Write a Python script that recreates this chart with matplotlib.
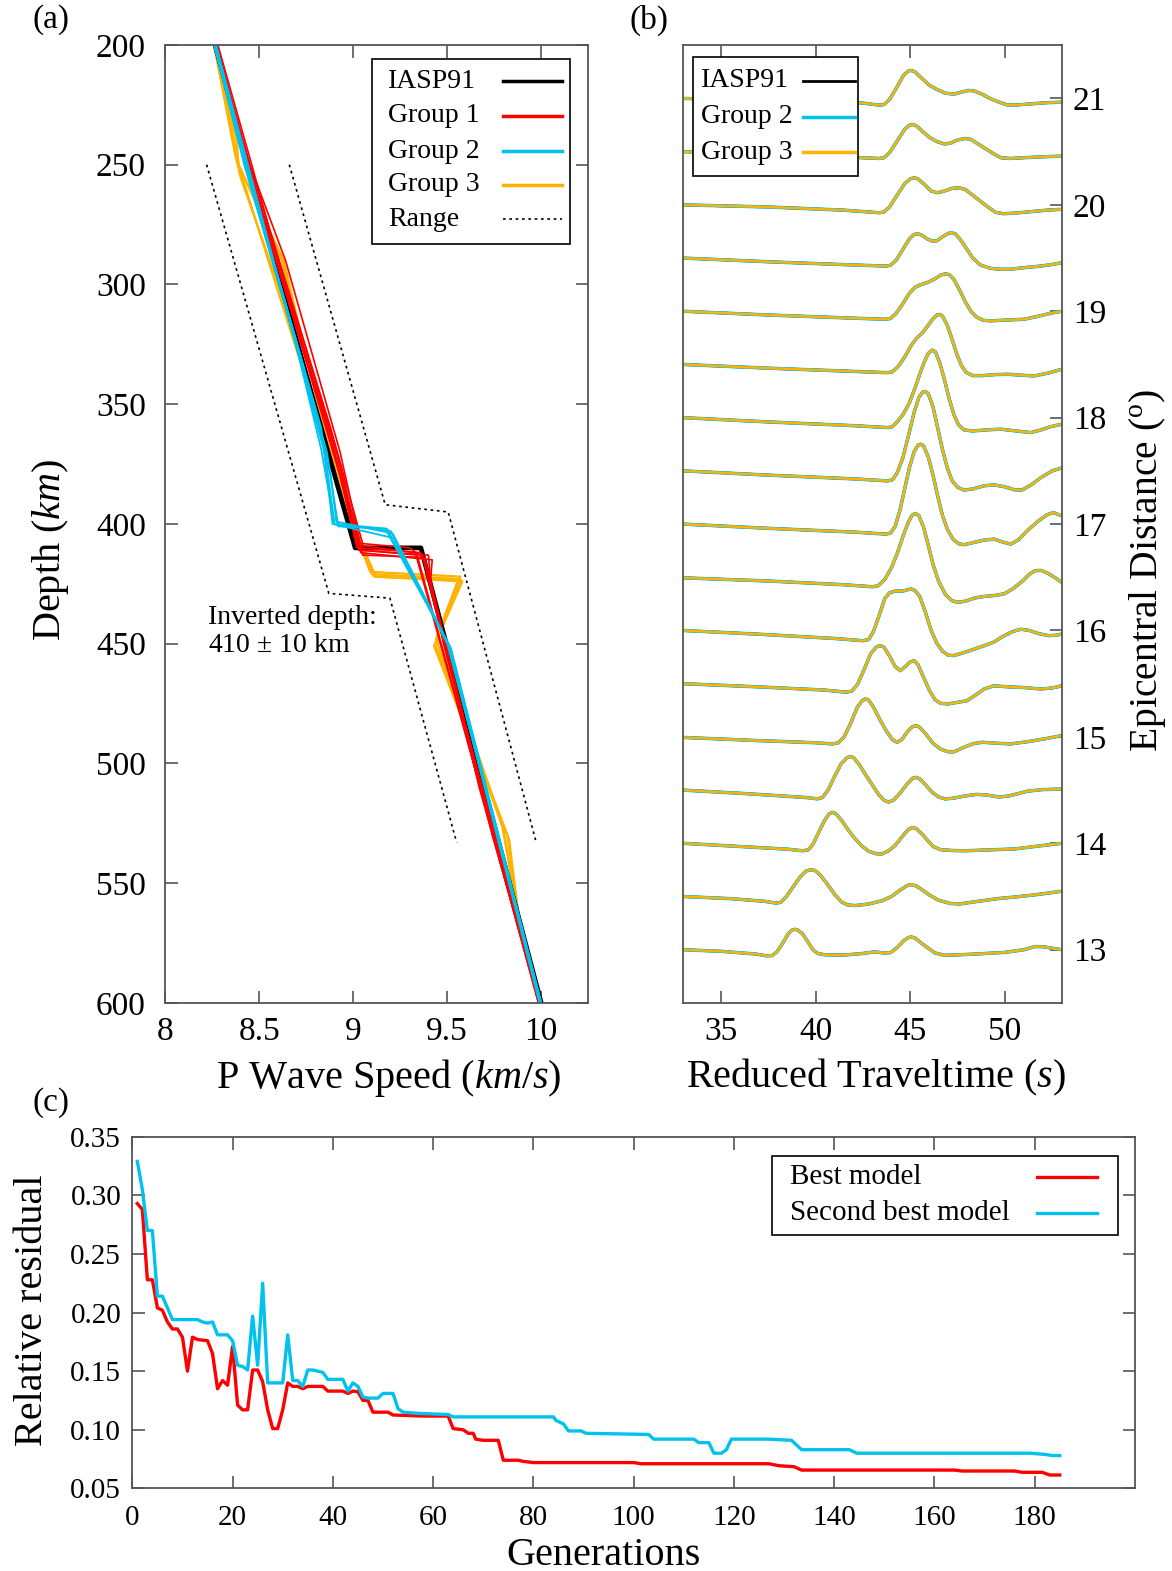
import matplotlib
matplotlib.use('Agg')
import matplotlib.pyplot as plt
from matplotlib.patches import Rectangle

plt.rcParams['font.family'] = ['Liberation Serif', 'DejaVu Serif']
plt.rcParams['mathtext.fontset'] = 'custom'
plt.rcParams['mathtext.rm'] = 'Liberation Serif'
plt.rcParams['mathtext.it'] = 'Liberation Serif:italic'

RED = '#ff0000'
CYAN = '#00c2ec'
ORANGE = '#ffb200'
FRAME = '#555555'

# ---- (a) P wave speed models: (depth km, vp km/s) ----
iasp91_depth = [200, 210, 250, 410, 410, 600]
iasp91_vp = [8.265, 8.30, 8.435, 9.01, 9.36, 10.0]

range_left_depth = [250, 429, 431, 533]
range_left_vp = [8.22, 8.87, 9.195, 9.55]
range_right_depth = [250, 392, 395, 532]
range_right_vp = [8.66, 9.17, 9.505, 9.97]

group1_models = [
    [(200, 8.27), (250, 8.45), (290, 8.64), (370, 8.93), (409, 9.04), (412, 9.33), (520, 9.71), (600, 9.99)],
    [(200, 8.27), (250, 8.44), (330, 8.76), (372, 8.92), (411, 9.03), (413, 9.40), (423, 9.41), (450, 9.48), (600, 9.995)],
    [(200, 8.26), (250, 8.43), (300, 8.63), (370, 8.91), (413, 9.05), (414, 9.38), (510, 9.67), (600, 9.99)],
    [(200, 8.27), (260, 8.47), (370, 8.90), (410, 9.02), (412, 9.36), (420, 9.40), (530, 9.74), (600, 9.995)],
    [(200, 8.28), (250, 8.46), (290, 8.60), (370, 8.90), (412, 9.04), (415, 9.42), (425, 9.41), (455, 9.50), (600, 9.99)],
    [(200, 8.27), (250, 8.44), (380, 8.93), (408, 9.02), (410, 9.30), (414, 9.37), (500, 9.64), (600, 9.985)],
    [(200, 8.27), (250, 8.45), (360, 8.88), (411, 9.06), (413, 9.34), (600, 9.985)],
]
group2_models = [
    [(200, 8.27), (250, 8.43), (330, 8.72), (370, 8.85), (400, 8.90), (402, 9.18), (451, 9.51), (600, 9.995)],
    [(200, 8.26), (250, 8.42), (320, 8.68), (369, 8.83), (400, 8.90), (403, 9.20), (450, 9.50), (600, 10.0)],
    [(200, 8.27), (250, 8.44), (380, 8.88), (399, 8.91), (404, 9.21), (452, 9.52), (600, 10.0)],
    [(200, 8.27), (260, 8.46), (370, 8.86), (401, 8.92), (402, 9.17), (449, 9.50), (600, 9.99)],
    [(200, 8.26), (250, 8.43), (360, 8.83), (400, 8.89), (406, 9.22), (453, 9.52), (600, 10.0)],
]
group3_models = [
    [(200, 8.26), (240, 8.38), (250, 8.39), (290, 8.63), (340, 8.78), (394, 8.96), (422, 9.11), (423.5, 9.575), (450, 9.435), (530, 9.82), (563, 9.88), (600, 10.0)],
    [(200, 8.26), (245, 8.37), (255, 8.40), (300, 8.60), (396, 8.98), (421, 9.10), (423, 9.56), (448, 9.44), (528, 9.80), (560, 9.87), (600, 10.0)],
    [(200, 8.27), (250, 8.39), (290, 8.62), (350, 8.82), (395, 8.97), (422, 9.12), (424, 9.58), (451, 9.43), (532, 9.83), (565, 9.88), (600, 10.0)],
    [(200, 8.26), (248, 8.38), (395, 8.97), (420, 9.09), (422, 9.57), (447, 9.45), (525, 9.79), (562, 9.875), (600, 10.0)],
]

# ---- (b) waveforms: epicentral distance and (time s, amplitude deg) knots ----
trace_dist = [13.0, 13.5, 14.0, 14.5, 15.0, 15.5, 16.0, 16.5, 17.0,
              17.5, 18.0, 18.5, 19.0, 19.5, 20.0, 20.5, 21.0]
trace_knots = [
    # 13.0
    [(33.0, 0.0), (35.0, -0.015), (36.8, -0.04), (37.4, -0.057), (37.7, -0.055), (37.95, -0.02), (38.25, 0.06),
     (38.55, 0.15), (38.75, 0.185), (38.9, 0.192), (39.05, 0.185), (39.3, 0.15), (39.6, 0.07), (39.85, 0.0),
     (40.1, -0.035), (40.5, -0.048), (41.5, -0.05), (42.5, -0.035), (43.1, -0.02), (43.6, -0.03), (43.95, -0.028),
     (44.3, 0.02), (44.65, 0.085), (44.9, 0.115), (45.05, 0.12), (45.25, 0.11), (45.6, 0.06), (45.9, 0.02),
     (46.3, -0.03), (46.8, -0.052), (47.3, -0.05), (48.5, -0.04), (50.0, -0.025), (51.0, 0.0), (51.6, 0.03),
     (52.0, 0.028), (53.0, 0.0)],
    # 13.5
    [(33.0, 0.0), (35.5, -0.02), (37.3, -0.045), (37.9, -0.062), (38.15, -0.055), (38.45, 0.0), (38.8, 0.09),
     (39.2, 0.19), (39.5, 0.24), (39.75, 0.252), (39.95, 0.245), (40.2, 0.21), (40.6, 0.12), (41.0, 0.02),
     (41.35, -0.05), (41.7, -0.08), (42.1, -0.085), (42.8, -0.07), (43.5, -0.04), (44.0, 0.0), (44.5, 0.065),
     (44.85, 0.105), (45.05, 0.112), (45.3, 0.1), (45.65, 0.06), (46.0, 0.015), (46.5, -0.035), (47.1, -0.065),
     (47.6, -0.07), (48.6, -0.045), (49.6, -0.02), (50.5, -0.005), (51.4, 0.012), (52.2, 0.03), (53.0, 0.05)],
    # 14.0
    [(33.0, 0.0), (36.0, -0.03), (38.5, -0.055), (39.3, -0.07), (39.6, -0.062), (39.85, -0.01), (40.15, 0.1),
     (40.45, 0.21), (40.7, 0.275), (40.88, 0.29), (41.05, 0.28), (41.35, 0.22), (41.7, 0.13), (42.0, 0.06),
     (42.4, -0.02), (42.8, -0.075), (43.2, -0.098), (43.5, -0.1), (43.85, -0.07), (44.2, -0.02), (44.6, 0.07),
     (44.9, 0.13), (45.1, 0.148), (45.3, 0.14), (45.6, 0.09), (45.9, 0.03), (46.2, -0.03), (46.6, -0.06),
     (47.3, -0.068), (47.9, -0.07), (49.0, -0.063), (50.5, -0.053), (51.8, -0.025), (53.0, 0.0)],
    # 14.5
    [(33.0, 0.0), (36.5, -0.035), (39.5, -0.07), (40.1, -0.082), (40.35, -0.07), (40.65, 0.0), (41.0, 0.13),
     (41.35, 0.25), (41.65, 0.305), (41.83, 0.315), (42.0, 0.305), (42.3, 0.24), (42.65, 0.14), (42.95, 0.06),
     (43.3, -0.035), (43.6, -0.095), (43.85, -0.112), (44.1, -0.095), (44.4, -0.04), (44.8, 0.05), (45.1, 0.11),
     (45.3, 0.12), (45.5, 0.105), (45.8, 0.05), (46.15, -0.02), (46.5, -0.065), (46.85, -0.083), (47.3, -0.075),
     (47.9, -0.055), (48.5, -0.04), (49.0, -0.045), (49.7, -0.065), (50.2, -0.055), (51.2, -0.01), (52.0, 0.005),
     (53.0, 0.01)],
    # 15.0
    [(33.0, -0.005), (37.0, -0.035), (40.0, -0.055), (40.9, -0.066), (41.2, -0.055), (41.5, 0.0), (41.85, 0.13),
     (42.2, 0.28), (42.45, 0.34), (42.63, 0.357), (42.8, 0.345), (43.05, 0.28), (43.4, 0.16), (43.75, 0.05),
     (44.05, -0.025), (44.3, -0.05), (44.55, -0.025), (44.85, 0.05), (45.1, 0.095), (45.3, 0.106), (45.5, 0.09),
     (45.85, 0.02), (46.2, -0.06), (46.6, -0.115), (47.0, -0.14), (47.3, -0.14), (47.8, -0.1), (48.3, -0.065),
     (48.8, -0.05), (49.6, -0.06), (50.3, -0.066), (51.2, -0.045), (52.2, -0.015), (53.0, 0.012)],
    # 15.5
    [(33.0, 0.0), (37.0, -0.03), (40.5, -0.06), (41.6, -0.08), (41.9, -0.07), (42.2, -0.01), (42.55, 0.13),
     (42.9, 0.28), (43.2, 0.345), (43.4, 0.357), (43.6, 0.345), (43.9, 0.26), (44.2, 0.16), (44.48, 0.122),
     (44.75, 0.165), (45.0, 0.205), (45.2, 0.216), (45.4, 0.18), (45.7, 0.06), (46.0, -0.06), (46.3, -0.15),
     (46.6, -0.185), (47.0, -0.19), (47.5, -0.175), (48.0, -0.16), (48.5, -0.1), (48.9, -0.05), (49.4, -0.02),
     (50.2, -0.03), (51.0, -0.036), (51.9, -0.05), (52.5, -0.04), (53.0, -0.02)],
    # 16.0
    [(33.0, 0.0), (37.0, -0.035), (41.0, -0.075), (42.5, -0.096), (42.8, -0.085), (43.05, -0.01), (43.35, 0.14),
     (43.65, 0.3), (43.9, 0.355), (44.2, 0.37), (44.6, 0.37), (44.9, 0.385), (45.05, 0.39), (45.25, 0.375),
     (45.5, 0.32), (45.8, 0.17), (46.1, 0.0), (46.4, -0.12), (46.7, -0.195), (47.0, -0.232), (47.3, -0.235),
     (47.7, -0.215), (48.3, -0.18), (48.9, -0.143), (49.4, -0.11), (49.9, -0.055), (50.4, -0.01), (50.84, 0.012),
     (51.3, 0.0), (51.8, -0.03), (52.3, -0.048), (52.7, -0.045), (53.0, -0.033)],
    # 16.5
    [(33.0, -0.005), (37.5, -0.035), (41.5, -0.07), (43.0, -0.089), (43.3, -0.08), (43.65, -0.02), (44.0, 0.09),
     (44.3, 0.22), (44.6, 0.38), (44.9, 0.52), (45.1, 0.585), (45.27, 0.6), (45.45, 0.58), (45.7, 0.47),
     (45.95, 0.3), (46.2, 0.12), (46.5, -0.04), (46.85, -0.16), (47.2, -0.22), (47.5, -0.235), (47.9, -0.225),
     (48.4, -0.195), (48.9, -0.18), (49.5, -0.17), (49.96, -0.155), (50.4, -0.11), (50.9, -0.04), (51.3, 0.03),
     (51.6, 0.062), (51.9, 0.065), (52.3, 0.035), (52.7, -0.01), (53.0, -0.049)],
    # 17.0
    [(33.0, 0.0), (37.5, -0.04), (42.0, -0.075), (43.7, -0.094), (43.95, -0.085), (44.2, -0.02), (44.45, 0.13),
     (44.7, 0.33), (44.95, 0.53), (45.2, 0.68), (45.4, 0.74), (45.55, 0.751), (45.7, 0.735), (45.95, 0.63),
     (46.2, 0.46), (46.45, 0.26), (46.7, 0.08), (46.96, -0.05), (47.25, -0.14), (47.55, -0.185), (47.84, -0.194),
     (48.3, -0.175), (48.9, -0.15), (49.43, -0.141), (49.9, -0.17), (50.31, -0.188), (50.7, -0.15), (51.2, -0.06),
     (51.7, 0.02), (52.2, 0.085), (52.55, 0.109), (53.0, 0.078)],
    # 17.5
    [(33.0, 0.0), (37.5, -0.04), (42.0, -0.075), (43.8, -0.094), (44.05, -0.085), (44.3, -0.02), (44.6, 0.12),
     (44.9, 0.33), (45.2, 0.55), (45.45, 0.69), (45.65, 0.74), (45.81, 0.745), (45.95, 0.725), (46.2, 0.6),
     (46.45, 0.4), (46.7, 0.2), (46.95, 0.03), (47.2, -0.09), (47.5, -0.155), (47.84, -0.18), (48.3, -0.17),
     (48.9, -0.14), (49.43, -0.132), (50.0, -0.15), (50.5, -0.178), (50.9, -0.18), (51.4, -0.13), (51.9, -0.063),
     (52.5, 0.0), (53.0, 0.028)],
    # 18.0
    [(33.0, 0.0), (37.5, -0.04), (42.0, -0.075), (43.8, -0.093), (44.05, -0.085), (44.35, -0.03), (44.65, 0.04),
     (44.95, 0.14), (45.25, 0.28), (45.5, 0.41), (45.75, 0.53), (45.95, 0.605), (46.15, 0.634), (46.32, 0.62),
     (46.55, 0.52), (46.8, 0.36), (47.05, 0.18), (47.3, 0.03), (47.55, -0.07), (47.84, -0.115), (48.3, -0.125),
     (49.0, -0.115), (49.78, -0.108), (50.6, -0.125), (51.37, -0.14), (51.9, -0.115), (52.4, -0.085), (53.0, -0.061)],
    # 18.5
    [(33.0, 0.0), (37.5, -0.035), (42.0, -0.065), (43.8, -0.077), (44.05, -0.07), (44.35, -0.02), (44.7, 0.07),
     (45.05, 0.18), (45.35, 0.25), (45.65, 0.3), (45.95, 0.37), (46.2, 0.43), (46.4, 0.465), (46.55, 0.47),
     (46.7, 0.455), (46.95, 0.37), (47.2, 0.24), (47.45, 0.1), (47.7, -0.01), (47.95, -0.075), (48.3, -0.105),
     (48.8, -0.105), (49.5, -0.095), (50.14, -0.092), (50.8, -0.1), (51.55, -0.108), (52.3, -0.08), (53.0, -0.045)],
    # 19.0
    [(33.0, 0.0), (37.5, -0.035), (42.0, -0.065), (43.7, -0.075), (43.95, -0.068), (44.25, -0.02), (44.6, 0.07),
     (44.95, 0.17), (45.25, 0.225), (45.55, 0.25), (45.9, 0.27), (46.25, 0.3), (46.6, 0.34), (46.85, 0.352),
     (47.05, 0.345), (47.3, 0.3), (47.6, 0.2), (47.9, 0.09), (48.2, 0.0), (48.5, -0.055), (48.85, -0.085),
     (49.25, -0.09), (49.8, -0.085), (50.4, -0.08), (51.02, -0.075), (51.8, -0.045), (52.5, -0.015), (53.0, 0.0)],
    # 19.5
    [(33.0, 0.0), (37.5, -0.035), (42.0, -0.065), (43.7, -0.075), (43.95, -0.068), (44.25, -0.02), (44.6, 0.08),
     (44.95, 0.18), (45.2, 0.222), (45.4, 0.228), (45.6, 0.215), (45.9, 0.18), (46.15, 0.16), (46.4, 0.162),
     (46.7, 0.2), (47.0, 0.232), (47.2, 0.238), (47.4, 0.225), (47.7, 0.16), (48.0, 0.08), (48.3, 0.0),
     (48.7, -0.065), (49.2, -0.095), (49.7, -0.105), (50.3, -0.105), (51.0, -0.09), (51.9, -0.075), (52.5, -0.06),
     (53.0, -0.044)],
    # 20.0
    [(33.0, 0.0), (37.5, -0.02), (41.5, -0.05), (43.35, -0.074), (43.6, -0.068), (43.9, -0.02), (44.3, 0.09),
     (44.7, 0.2), (45.0, 0.245), (45.2, 0.254), (45.4, 0.245), (45.75, 0.19), (46.1, 0.13), (46.43, 0.114),
     (46.8, 0.13), (47.2, 0.155), (47.55, 0.161), (47.9, 0.145), (48.3, 0.09), (48.7, 0.035), (49.1, -0.02),
     (49.5, -0.07), (49.9, -0.083), (50.5, -0.078), (51.3, -0.065), (52.2, -0.05), (53.0, -0.042)],
    # 20.5
    [(33.0, 0.0), (37.5, -0.025), (41.5, -0.05), (43.35, -0.064), (43.6, -0.058), (43.9, -0.01), (44.3, 0.1),
     (44.7, 0.21), (44.95, 0.248), (45.1, 0.255), (45.3, 0.245), (45.65, 0.19), (46.0, 0.135), (46.4, 0.095),
     (46.8, 0.072), (47.1, 0.08), (47.5, 0.11), (47.9, 0.124), (48.2, 0.115), (48.6, 0.07), (49.0, 0.025),
     (49.4, -0.02), (49.8, -0.058), (50.3, -0.064), (51.2, -0.055), (52.2, -0.047), (53.0, -0.042)],
    # 21.0
    [(33.0, 0.0), (37.5, -0.02), (42.36, -0.041), (43.35, -0.063), (43.6, -0.058), (43.9, -0.01), (44.3, 0.11),
     (44.65, 0.22), (44.9, 0.258), (45.05, 0.263), (45.25, 0.25), (45.6, 0.19), (46.0, 0.125), (46.4, 0.085),
     (46.85, 0.05), (47.3, 0.04), (47.7, 0.06), (48.05, 0.075), (48.35, 0.072), (48.8, 0.04), (49.2, 0.0),
     (49.7, -0.035), (50.1, -0.06), (50.5, -0.063), (51.3, -0.052), (52.2, -0.04), (53.0, -0.035)],
]

# ---- (c) residual vs generation ----
best_gen = [1, 2, 3, 4, 5, 6, 7, 8, 9, 10, 11, 12, 13, 15, 16, 17, 18, 19, 20, 21, 22, 23, 24, 25, 26, 27, 28, 29, 30,
            31, 32, 33, 34, 35, 38, 39, 42, 43, 44, 45, 46, 47, 48, 51, 52, 58, 63, 64, 66, 67, 68, 68.5, 70, 73,
            74, 77, 78, 80, 100, 101.5, 127, 129, 132, 133.5, 164, 165.5, 176, 177.5, 181.5, 183, 185]
best_res = [0.293, 0.288, 0.228, 0.228, 0.204, 0.202, 0.192, 0.186, 0.186, 0.179, 0.150, 0.179, 0.177, 0.176, 0.165,
            0.135, 0.142, 0.138, 0.171, 0.121, 0.117, 0.117, 0.151, 0.151, 0.141, 0.117, 0.101, 0.101, 0.117,
            0.140, 0.137, 0.137, 0.135, 0.137, 0.137, 0.133, 0.133, 0.131, 0.133, 0.1325, 0.125, 0.125, 0.115, 0.115,
            0.1126, 0.1117, 0.1117, 0.101, 0.100, 0.097, 0.097, 0.092, 0.091, 0.091, 0.074, 0.074, 0.073, 0.072,
            0.072, 0.071, 0.071, 0.0693, 0.0685, 0.0656, 0.0656, 0.0648, 0.0648, 0.0637, 0.0637, 0.0614, 0.0614]
second_gen = [1, 2, 3, 4, 5, 6, 7, 8, 13, 14, 15, 16, 17, 19, 20, 21, 22, 23, 24, 25, 26, 27, 30, 31, 32, 33, 34,
              35, 36, 37, 38, 39, 42, 43, 44, 45, 46, 47, 49, 50, 52, 53, 54, 57, 63, 64, 84, 84.5, 86, 87, 89.5,
              90.5, 103, 104, 112, 113, 115, 116, 117.5, 118.5, 119.5, 127, 131.5, 133.5, 143, 144.5, 179, 182,
              183.5, 185]
second_res = [0.329, 0.305, 0.270, 0.270, 0.214, 0.214, 0.204, 0.194, 0.194, 0.192, 0.191, 0.192, 0.181, 0.181,
              0.176, 0.155, 0.154, 0.151, 0.197, 0.155, 0.225, 0.140, 0.140, 0.181, 0.142, 0.142, 0.137, 0.151,
              0.151, 0.150, 0.149, 0.143, 0.143, 0.133, 0.140, 0.137, 0.128, 0.127, 0.127, 0.131, 0.131, 0.118,
              0.115, 0.114, 0.113, 0.111, 0.111, 0.108, 0.105, 0.099, 0.099, 0.097, 0.096, 0.092, 0.092, 0.089,
              0.089, 0.080, 0.080, 0.083, 0.092, 0.092, 0.091, 0.083, 0.083, 0.080, 0.080, 0.079, 0.078, 0.078]


def style_frame(ax):
    for sp in ax.spines.values():
        sp.set_color(FRAME)
        sp.set_linewidth(1.3)


def draw_key(ax, box, text_x, line_x, rows, fontsize=20):
    # gnuplot style key: label on the left, line sample on the right
    x0, y0, x1, y1 = box
    ax.add_patch(Rectangle((x0, y0), x1 - x0, y1 - y0, transform=ax.transAxes,
                           facecolor='white', edgecolor='black', lw=1.2, zorder=10))
    for label, y, kw in rows:
        ax.text(text_x, y, label, transform=ax.transAxes, fontsize=fontsize,
                va='center', ha='left', zorder=11)
        ax.plot(line_x, [y, y], transform=ax.transAxes, zorder=11, **kw)


fig = plt.figure(figsize=(11.72, 15.71), dpi=100)

# ---------------- (a) ----------------
ax_a = fig.add_axes([0.1410, 0.3616, 0.3609, 0.6098])
ax_a.plot(range_left_vp, range_left_depth, color='black', lw=1.2, ls=(0, (1.6, 2.2)))
ax_a.plot(range_right_vp, range_right_depth, color='black', lw=1.2, ls=(0, (1.6, 2.2)))
for m in group3_models:
    ax_a.plot([v for d, v in m], [d for d, v in m], color=ORANGE, lw=1.6)
ax_a.plot(iasp91_vp, iasp91_depth, color='black', lw=3.4)
for m in group1_models:
    ax_a.plot([v for d, v in m], [d for d, v in m], color=RED, lw=1.2)
for m in group2_models:
    ax_a.plot([v for d, v in m], [d for d, v in m], color=CYAN, lw=1.3)
ax_a.text(8.225, 445, 'Inverted depth:\n410 $\\pm$ 10 km', fontsize=20, va='center', linespacing=1.15)
ax_a.set_xlim(8, 10.25)
ax_a.set_ylim(600, 200)
ax_a.set_xticks([8, 8.5, 9, 9.5, 10])
ax_a.set_xticklabels(['8', '8.5', '9', '9.5', '10'])
ax_a.set_yticks(range(200, 601, 50))
ax_a.tick_params(direction='in', top=True, right=True, length=9, width=1.2, color=FRAME, labelsize=24)
ax_a.tick_params(axis='x', pad=10)
ax_a.tick_params(axis='y', pad=14)
ax_a.set_xlabel('P Wave Speed ($km/s$)', fontsize=29)
ax_a.set_ylabel('Depth ($km$)', fontsize=29)
ax_a.xaxis.set_label_coords(0.528, -0.0564)
ax_a.yaxis.set_label_coords(-0.224, 0.473)
style_frame(ax_a)
draw_key(ax_a, (0.489, 0.792, 0.957, 0.985), 0.527, [0.798, 0.937], [
    ('IASP91', 0.962, dict(color='black', lw=2.5)),
    ('Group 1', 0.926, dict(color=RED, lw=2.5)),
    ('Group 2', 0.889, dict(color=CYAN, lw=2.5)),
    ('Group 3', 0.854, dict(color=ORANGE, lw=2.5)),
    ('Range', 0.818, dict(color='black', lw=1.2, ls=(0, (1.6, 2.2)))),
])

# ---------------- (b) ----------------
ax_b = fig.add_axes([0.5830, 0.3616, 0.3229, 0.6096])
for dist, knots in zip(trace_dist, trace_knots):
    t = [k[0] for k in knots]
    y = [dist + k[1] for k in knots]
    ax_b.plot(t, y, color='black', lw=2.0)
    ax_b.plot(t, y, color=CYAN, lw=2.5)
    ax_b.plot(t, y, color=ORANGE, lw=1.8)
ax_b.set_xlim(33, 53)
ax_b.set_ylim(12.5, 21.5)
ax_b.set_xticks([35, 40, 45, 50])
ax_b.set_yticks(range(13, 22))
ax_b.yaxis.tick_right()
ax_b.yaxis.set_label_position('right')
ax_b.tick_params(axis='x', direction='in', top=True, length=9, width=1.2, color=FRAME, labelsize=24, pad=10)
ax_b.tick_params(axis='y', direction='in', left=False, right=True, length=9, width=1.2, color=FRAME,
                 labelsize=24, pad=8)
ax_b.set_xlabel('Reduced Traveltime ($s$)', fontsize=29)
ax_b.set_ylabel('Epicentral Distance ($^{\\rm o}$)', fontsize=28.5, rotation=90)
ax_b.xaxis.set_label_coords(0.51, -0.0564)
ax_b.yaxis.set_label_coords(1.1726, 0.452)
style_frame(ax_b)
draw_key(ax_b, (0.0256, 0.8632, 0.4617, 0.9875), 0.046, [0.316, 0.454], [
    ('IASP91', 0.9627, dict(color='black', lw=2.0)),
    ('Group 2', 0.9251, dict(color=CYAN, lw=2.5)),
    ('Group 3', 0.8885, dict(color=ORANGE, lw=2.5)),
])

# ---------------- (c) ----------------
ax_c = fig.add_axes([0.1129, 0.0526, 0.8555, 0.2238])
ax_c.plot(best_gen, best_res, color=RED, lw=2.4)
ax_c.plot(second_gen, second_res, color=CYAN, lw=2.4)
ax_c.set_xlim(0, 200)
ax_c.set_ylim(0.05, 0.35)
ax_c.set_xticks(range(0, 181, 20))
ax_c.set_yticks([0.05, 0.10, 0.15, 0.20, 0.25, 0.30, 0.35])
ax_c.set_yticklabels(['0.05', '0.10', '0.15', '0.20', '0.25', '0.30', '0.35'])
ax_c.tick_params(direction='in', top=True, right=True, length=9, width=1.2, color=FRAME, labelsize=21)
ax_c.tick_params(axis='x', pad=12)
ax_c.tick_params(axis='y', pad=8)
ax_c.set_xlabel('Generations', fontsize=29)
ax_c.set_ylabel('Relative residual', fontsize=29)
ax_c.xaxis.set_label_coords(0.47, -0.1385)
ax_c.yaxis.set_label_coords(-0.081, 0.507)
style_frame(ax_c)
draw_key(ax_c, (0.638, 0.7204, 0.9826, 0.945), 0.656, [0.902, 0.962], [
    ('Best model', 0.8845, dict(color=RED, lw=2.4)),
    ('Second best model', 0.782, dict(color=CYAN, lw=2.4)),
], fontsize=21)

fig.text(0.028, 1 - 20 / 1571, '(a)', fontsize=24, va='center')
fig.text(0.5375, 1 - 20 / 1571, '(b)', fontsize=24, va='center')
fig.text(0.028, 1 - 1103 / 1571, '(c)', fontsize=24, va='center')

fig.savefig('out.png', dpi=100)
